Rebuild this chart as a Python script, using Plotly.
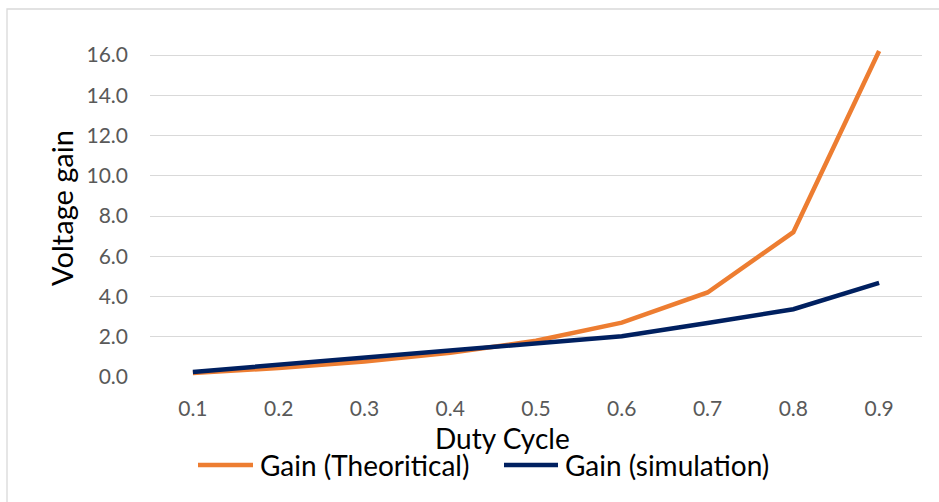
import plotly.graph_objects as go

# Duty cycle categories and measured/computed voltage gains
duty_cycle = ["0.1", "0.2", "0.3", "0.4", "0.5", "0.6", "0.7", "0.8", "0.9"]
gain_theoretical = [0.2, 0.45, 0.77, 1.2, 1.8, 2.7, 4.2, 7.2, 16.2]
gain_simulation = [0.25, 0.6, 0.95, 1.35, 1.67, 2.03, 2.68, 3.37, 4.68]
series_names = ["Gain (Theoritical)", "Gain (simulation)"]
series_colors = ["#ED7D31", "#002060"]
y_ticks = [0, 2, 4, 6, 8, 10, 12, 14, 16]
y_tick_text = [f"{v:.1f}" for v in y_ticks]

FONT = "Lato"

fig = go.Figure()
for name, vals, color in zip(series_names, [gain_theoretical, gain_simulation], series_colors):
    fig.add_trace(go.Scatter(
        x=duty_cycle, y=vals, name=name, mode="lines",
        line=dict(color=color, width=4.5),
        cliponaxis=False, showlegend=False,
    ))

fig.update_layout(
    width=939, height=502,
    margin=dict(l=150, r=17, t=45, b=125),
    paper_bgcolor="white", plot_bgcolor="white",
    font=dict(family=FONT, size=21, color="#595959"),
    xaxis=dict(
        type="category", range=[-0.5, 8.5],
        showgrid=False, zeroline=False, showline=False,
        ticks="", ticklabelstandoff=17,
        tickfont=dict(family=FONT, size=21, color="#595959"),
    ),
    yaxis=dict(
        range=[0, 16.5], tickvals=y_ticks, ticktext=y_tick_text,
        showgrid=True, gridcolor="#D9D9D9", gridwidth=1.3,
        zeroline=False, showline=False, ticks="", ticklabelstandoff=21,
        tickfont=dict(family=FONT, size=21, color="#595959"),
    ),
)

# Axis titles
fig.add_annotation(
    text="Voltage gain", xref="paper", yref="paper", x=-0.115, y=0.51,
    xanchor="center", yanchor="middle", textangle=-90, showarrow=False,
    font=dict(family=FONT, size=29, color="#000000"),
)
fig.add_annotation(
    text="Duty Cycle", xref="paper", yref="paper", x=0.457, y=-0.1835,
    xanchor="center", yanchor="middle", showarrow=False,
    font=dict(family=FONT, size=28, color="#000000"),
)

# Legend drawn beneath the axis title
legend_y = -0.2647
legend_line_x = [(198, 253, 258), (504, 558, 563)]
px = lambda v: (v - 150) / 772
for name, color, (x0, x1, xt) in zip(series_names, series_colors, legend_line_x):
    fig.add_shape(type="line", xref="paper", yref="paper",
                  x0=px(x0), x1=px(x1), y0=legend_y, y1=legend_y,
                  line=dict(color=color, width=4.5))
    fig.add_annotation(
        text=name, xref="paper", yref="paper", x=px(xt), y=legend_y,
        xanchor="left", yanchor="middle", showarrow=False,
        font=dict(family=FONT, size=28, color="#000000"),
    )

# Chart border
fig.add_shape(type="rect", xref="paper", yref="paper",
              x0=(7 - 150) / 772, x1=(945 - 150) / 772,
              y0=(377 - 510) / 332, y1=(377 - 9) / 332,
              line=dict(color="#D9D9D9", width=1.3), layer="below")

fig.write_html("out.html")
